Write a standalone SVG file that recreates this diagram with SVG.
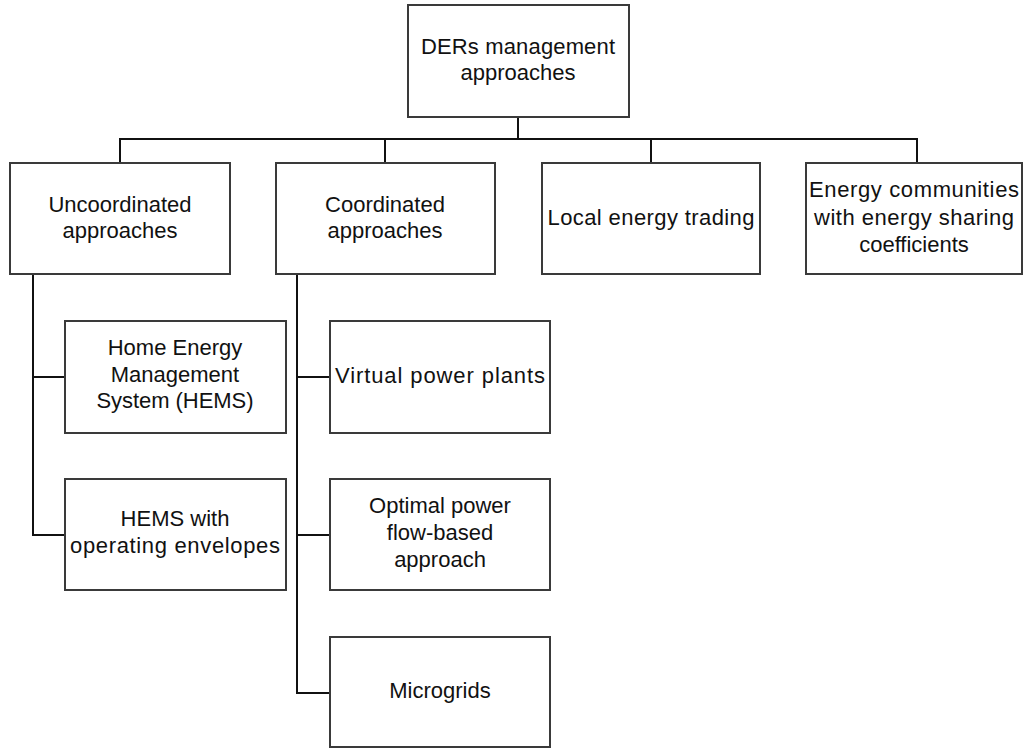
<svg xmlns="http://www.w3.org/2000/svg" width="1024" height="749" viewBox="0 0 1024 749">
  <style>
    .box { fill: #ffffff; stroke: #3a3a3a; stroke-width: 2; }
    .lbl { font-family: "Liberation Sans", "Open Sans", sans-serif; font-size: 22px; fill: #111111; text-anchor: middle; }
    .wire { fill: none; stroke: #111111; stroke-width: 2; }
  </style>
  <rect width="1024" height="749" fill="#ffffff"/>

  <!-- tree connectors -->
  <g id="connectors">
    <path class="wire" d="M518 117 V139"/>
    <path class="wire" d="M120 163 V139 H917 V163"/>
    <path class="wire" d="M385 139 V163"/>
    <path class="wire" d="M651 139 V163"/>
    <path class="wire" d="M33 274 V535 H65"/>
    <path class="wire" d="M33 377 H65"/>
    <path class="wire" d="M297 274 V693 H330"/>
    <path class="wire" d="M297 377 H330"/>
    <path class="wire" d="M297 535 H330"/>
  </g>

  <g id="root">
    <rect class="box" x="408" y="5" width="221" height="112"/>
    <text class="lbl" x="518" y="54" textLength="194">DERs management</text>
    <text class="lbl" x="518" y="80">approaches</text>
  </g>

  <g id="uncoordinated">
    <rect class="box" x="10" y="163" width="220" height="111"/>
    <text class="lbl" x="120" y="212">Uncoordinated</text>
    <text class="lbl" x="120" y="238">approaches</text>
  </g>

  <g id="coordinated">
    <rect class="box" x="276" y="163" width="219" height="111"/>
    <text class="lbl" x="385" y="212">Coordinated</text>
    <text class="lbl" x="385" y="238">approaches</text>
  </g>

  <g id="local-trading">
    <rect class="box" x="542" y="163" width="218" height="111"/>
    <text class="lbl" x="651" y="225" textLength="207">Local energy trading</text>
  </g>

  <g id="energy-communities">
    <rect class="box" x="806" y="163" width="216" height="111"/>
    <text class="lbl" x="914" y="197" textLength="210">Energy communities</text>
    <text class="lbl" x="914" y="225" textLength="200">with energy sharing</text>
    <text class="lbl" x="914" y="252">coefficients</text>
  </g>

  <g id="hems">
    <rect class="box" x="65" y="321" width="221" height="112"/>
    <text class="lbl" x="175" y="355">Home Energy</text>
    <text class="lbl" x="175" y="382">Management</text>
    <text class="lbl" x="175" y="408" textLength="157">System (HEMS)</text>
  </g>

  <g id="hems-envelopes">
    <rect class="box" x="65" y="479" width="221" height="111"/>
    <text class="lbl" x="175" y="526">HEMS with</text>
    <text class="lbl" x="175" y="553" textLength="210">operating envelopes</text>
  </g>

  <g id="vpp">
    <rect class="box" x="330" y="321" width="220" height="112"/>
    <text class="lbl" x="440" y="383" textLength="210">Virtual power plants</text>
  </g>

  <g id="opf">
    <rect class="box" x="330" y="479" width="220" height="111"/>
    <text class="lbl" x="440" y="513">Optimal power</text>
    <text class="lbl" x="440" y="540">flow-based</text>
    <text class="lbl" x="440" y="567">approach</text>
  </g>

  <g id="microgrids">
    <rect class="box" x="330" y="637" width="220" height="110"/>
    <text class="lbl" x="440" y="698">Microgrids</text>
  </g>
</svg>
